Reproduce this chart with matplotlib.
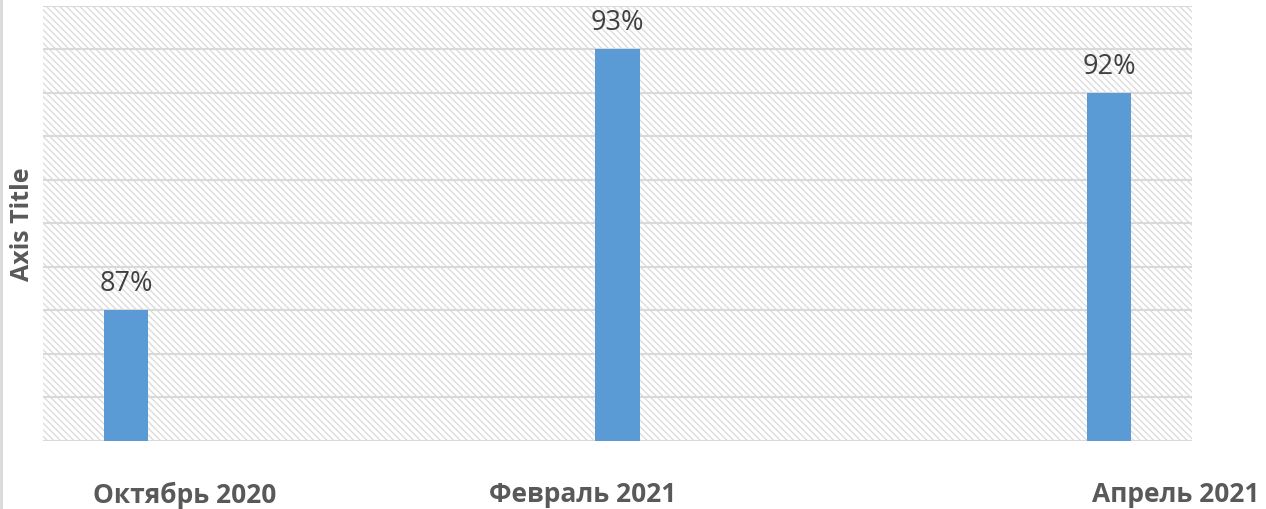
import matplotlib
matplotlib.use("Agg")
import matplotlib.pyplot as plt
from matplotlib.patches import Rectangle
from matplotlib.lines import Line2D

categories = ["Октябрь 2020", "Февраль 2021", "Апрель 2021"]
values = [87, 93, 92]
labels = ["87%", "93%", "92%"]

plt.rcParams['font.family'] = ['Open Sans', 'DejaVu Sans']
plt.rcParams['hatch.color'] = '#dcdcdc'
plt.rcParams['hatch.linewidth'] = 1.0

fig = plt.figure(figsize=(12.66, 5.10), dpi=100)
ax = fig.add_axes([43 / 1266, 1 - 442 / 510, (1192 - 43) / 1266, (442 - 7) / 510])

# hatched plot background
ax.add_patch(Rectangle((0, 0), 1, 1, transform=ax.transAxes, facecolor='white',
                       edgecolor='#dcdcdc', hatch='\\\\\\\\\\', linewidth=0, zorder=0))

x = list(range(len(categories)))
ax.bar(x, values, width=0.09, color='#5b9bd5', zorder=3)
for xi, v, lab in zip(x, values, labels):
    ax.text(xi, v + 0.3, lab, ha='center', va='bottom', fontsize=19.5, color='#404040', zorder=4)

ax.set_xlim(-0.169, 2.169)
ax.set_ylim(84, 94)
ax.set_yticks(range(84, 95))
ax.yaxis.grid(True, color='#d9d9d9', linewidth=1.5, zorder=1)
ax.set_axisbelow(True)
ax.tick_params(left=False, bottom=False, labelleft=False, labelbottom=False)
for s in ax.spines.values():
    s.set_visible(False)

ax.set_ylabel("Axis Title", fontsize=18, fontweight='bold', color='#595959', labelpad=6)

# category labels, placed as in the original layout
label_x = [185, 583, 1176]
for lx, cat in zip(label_x, categories):
    fig.text(lx / 1266, 1 - 495 / 510, cat, ha='center', va='center', fontsize=19,
             fontweight='bold', color='#595959')

# left chart frame
fig.add_artist(Line2D([0.001, 0.001], [0, 1], transform=fig.transFigure, color='#d9d9d9', linewidth=2))

fig.savefig("out.png", dpi=100)
